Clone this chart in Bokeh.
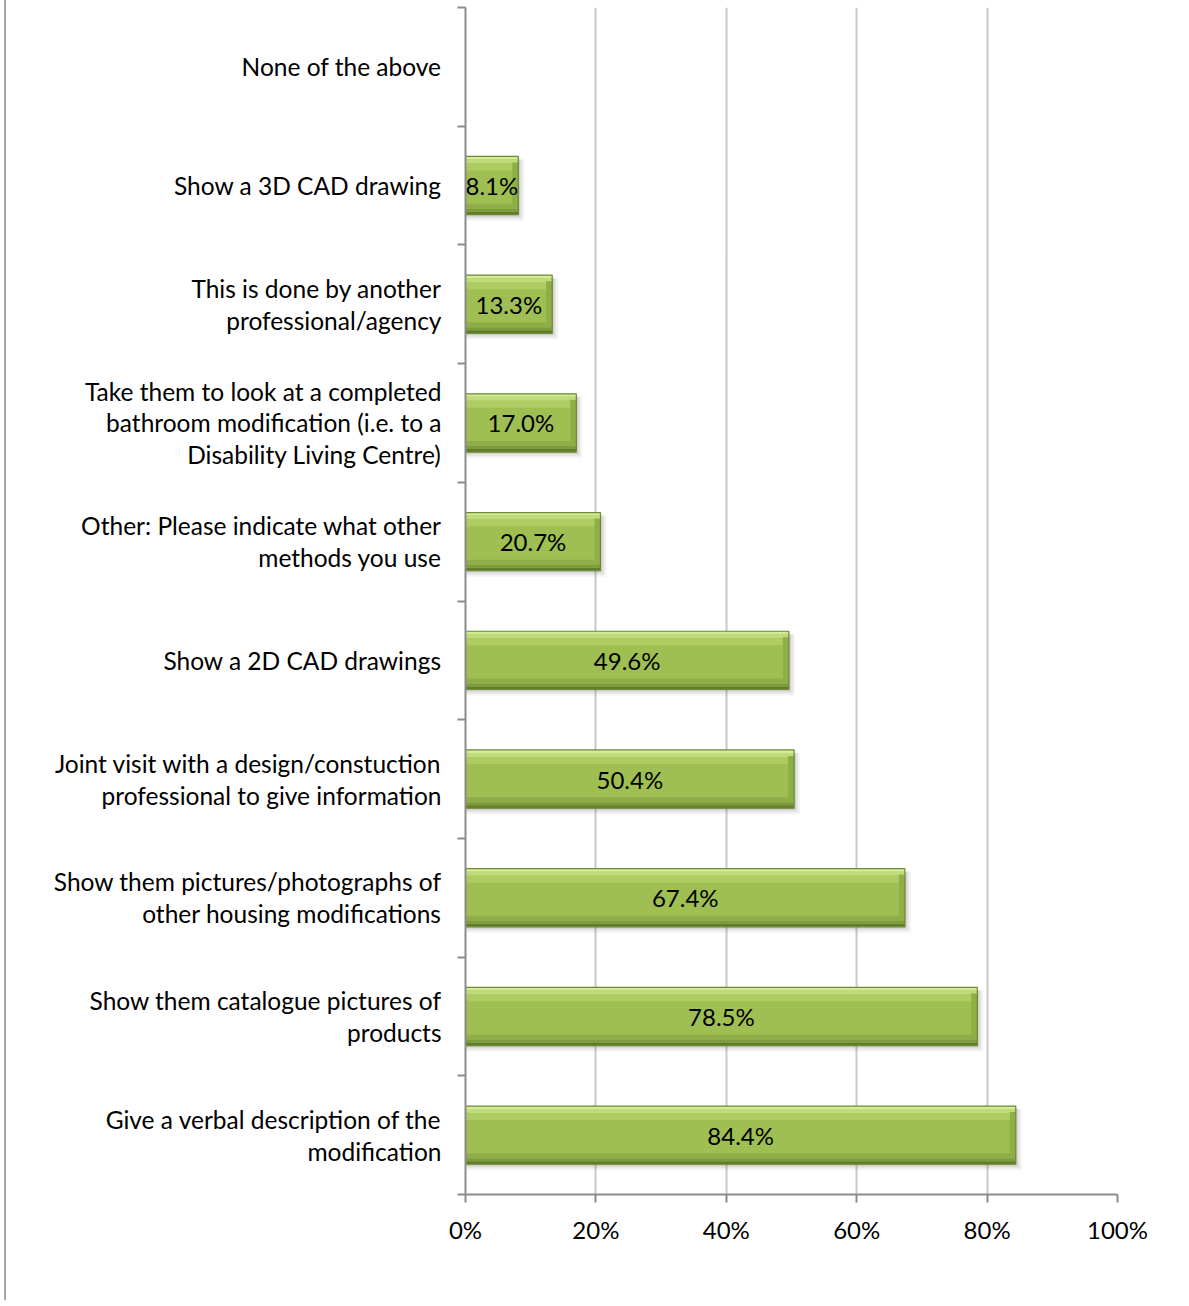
from bokeh.plotting import figure
from bokeh.models import FixedTicker, Range1d, ColumnDataSource, PrintfTickFormatter
from bokeh.core.properties import value
from bokeh.embed import file_html
from bokeh.resources import INLINE

# ---- data (bottom to top) ----
categories = [
    "Give a verbal description of the\nmodification",
    "Show them catalogue pictures of\nproducts",
    "Show them pictures/photographs of\nother housing modifications",
    "Joint visit with a design/constuction\nprofessional to give information",
    "Show a 2D CAD drawings",
    "Other: Please indicate what other\nmethods you use",
    "Take them to look at a completed\nbathroom modification (i.e. to a\nDisability Living Centre)",
    "This is done by another\nprofessional/agency",
    "Show a 3D CAD drawing",
    "None of the above",
]
values = [84.4, 78.5, 67.4, 50.4, 49.6, 20.7, 17.0, 13.3, 8.1, 0.0]
x_ticks = [0, 20, 40, 60, 80, 100]

FONT = "Lato"
FW, FH = 652, 1187
px_x = 100.0 / FW
px_y = 10.0 / FH
BAR_H = 0.49

p = figure(width=1181, height=1300, output_backend="svg", toolbar_location=None,
           x_range=Range1d(0, 100), y_range=Range1d(-0.5, 9.5),
           frame_width=FW, frame_height=FH,
           min_border_left=459, min_border_top=7, min_border_right=70, min_border_bottom=106)
p.outline_line_color = None
p.background_fill_color = "white"
p.border_fill_color = "white"
p.styles = {"border-left": "2px solid #a6a6a6", "margin-left": "4px"}

# grid
p.xgrid.ticker = FixedTicker(ticks=x_ticks)
p.xgrid.grid_line_color = "#c8c8c8"
p.xgrid.grid_line_width = 2
p.ygrid.grid_line_color = None

# x axis
xa = p.xaxis[0]
xa.ticker = FixedTicker(ticks=x_ticks)
xa.formatter = PrintfTickFormatter(format="%d%%")
xa.axis_line_color = "#8c8c8c"
xa.axis_line_width = 2
xa.major_tick_line_color = "#8c8c8c"
xa.major_tick_line_width = 2
xa.major_tick_out = 8
xa.major_tick_in = 0
xa.minor_tick_line_color = None
xa.major_label_standoff = 12
xa.major_label_text_font = FONT
xa.major_label_text_font_size = "24px"
xa.major_label_text_color = "black"

# y axis
ya = p.yaxis[0]
ya.ticker = FixedTicker(ticks=list(range(10)), minor_ticks=[i - 0.5 for i in range(11)])
ya.major_label_overrides = {i: c for i, c in enumerate(categories)}
ya.axis_line_color = "#8c8c8c"
ya.axis_line_width = 2
ya.major_tick_line_color = None
ya.major_tick_out = 0
ya.major_tick_in = 0
ya.minor_tick_line_color = "#8c8c8c"
ya.minor_tick_line_width = 2
ya.minor_tick_out = 8
ya.minor_tick_in = 0
ya.major_label_standoff = 16
ya.major_label_text_font = FONT
ya.major_label_text_font_size = "24.5px"
ya.major_label_text_color = "black"
ya.major_label_text_line_height = 1.1

# bars
ys = [i for i, v in enumerate(values) if v > 0]
vs = [v for v in values if v > 0]
src = ColumnDataSource(dict(
    y=ys, v=vs,
    half=[v / 2 for v in vs],
    lab=["%.1f%%" % v for v in vs],
))

def strips(t_off, b_off, color, alpha=1.0, from_top=True):
    d = dict(
        left=[0.0] * len(ys),
        right=list(vs),
        top=[(y + BAR_H / 2 - t_off * px_y) if from_top else (y - BAR_H / 2 + t_off * px_y) for y in ys],
        bottom=[(y + BAR_H / 2 - b_off * px_y) if from_top else (y - BAR_H / 2 + b_off * px_y) for y in ys],
    )
    p.quad(left="left", right="right", top="top", bottom="bottom", source=ColumnDataSource(d),
           fill_color=color, fill_alpha=alpha, line_color=None)

# shadow
for k, a in [(6, 0.07), (4, 0.10), (2, 0.16)]:
    d = dict(left=[1 * px_x] * len(ys), right=[v + k * px_x for v in vs],
             top=[y + BAR_H / 2 - 3 * px_y for y in ys], bottom=[y - BAR_H / 2 - k * px_y for y in ys])
    p.quad(left="left", right="right", top="top", bottom="bottom", source=ColumnDataSource(d),
           fill_color="#606060", fill_alpha=a, line_color=None)

# main body
p.hbar(y="y", right="v", left=0, height=BAR_H, source=src,
       fill_color="#9fbf52", line_color=None)
# vertical gradient layers
strips(0, 3, "#d4ec9a")
strips(3, 7, "#c0dc7a")
strips(7, 14, "#afcc63")
strips(0, 3, "#617c2b", from_top=False)
strips(3, 6, "#7d9c3d", from_top=False)
strips(6, 11, "#8fae4a", from_top=False)
# right bevel
d = dict(left=[v - 6 * px_x for v in vs], right=vs,
         top=[y + BAR_H / 2 - 6 * px_y for y in ys], bottom=[y - BAR_H / 2 + 6 * px_y for y in ys])
p.quad(left="left", right="right", top="top", bottom="bottom", source=ColumnDataSource(d),
       fill_color="#8eae46", line_color=None)
# outline
p.hbar(y="y", right="v", left=0, height=BAR_H, source=src,
       fill_color=None, line_color="#6d8a33", line_width=1.2)

# labels
p.text(x="half", y="y", text="lab", source=src, text_align="center", text_baseline="middle",
       text_font=value(FONT), text_font_size="24px", text_color="black")

open("out.html", "w").write(file_html(p, INLINE))
